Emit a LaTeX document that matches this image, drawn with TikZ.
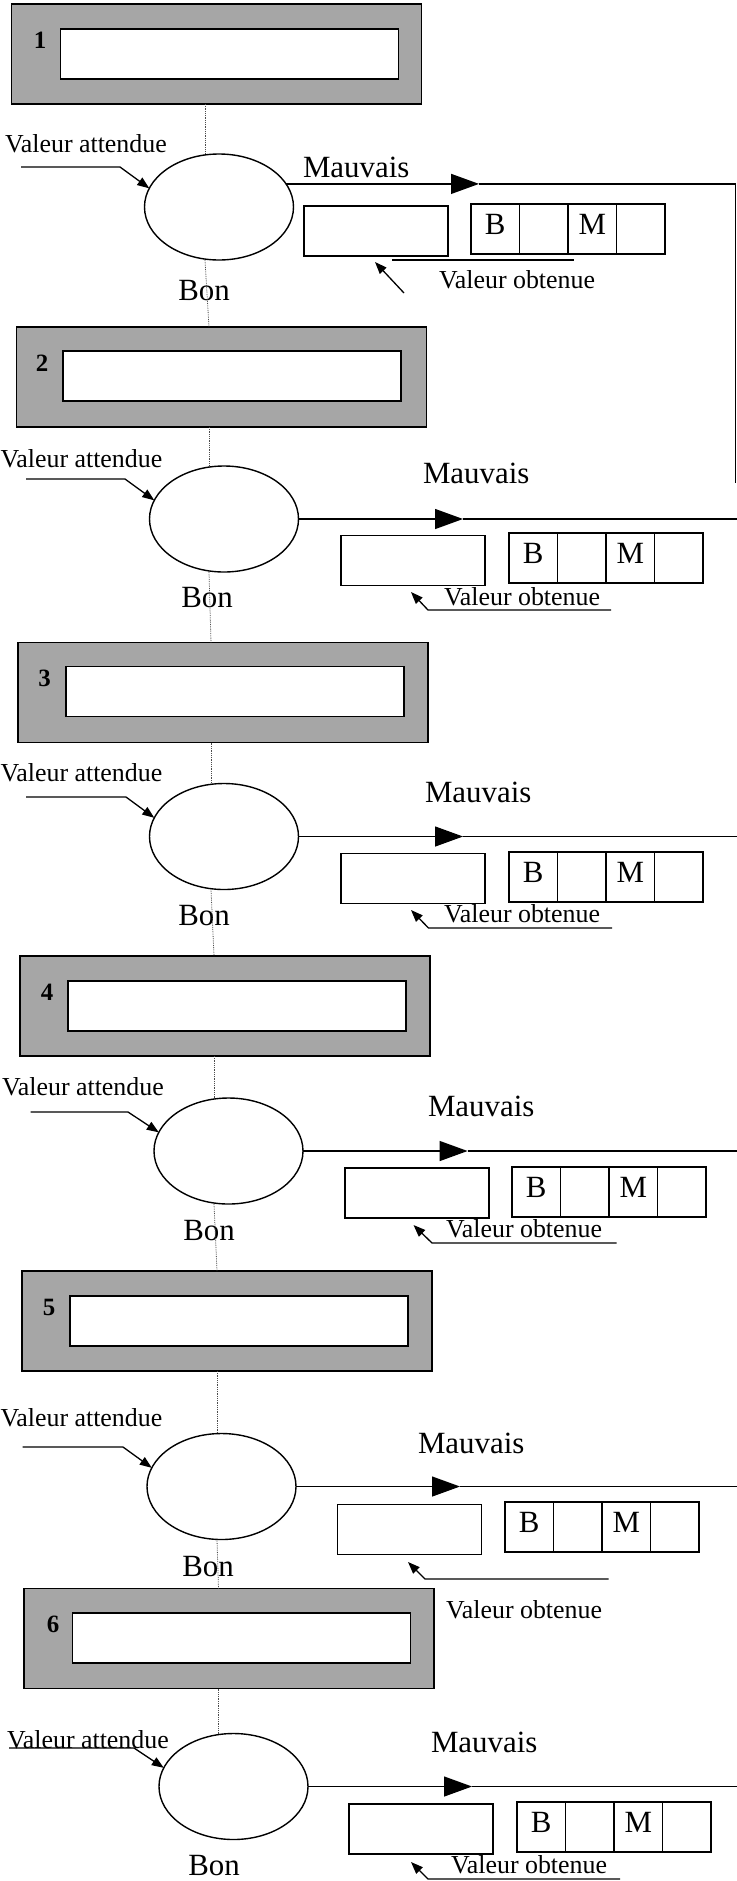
\documentclass[tikz,border=0pt]{standalone}
\usepackage{fontspec}
\setmainfont{Liberation Serif}
\usetikzlibrary{shapes.geometric,arrows.meta}
\tikzset{
  frame/.style={draw, line width=1.5bp, fill=black!35, minimum width=410bp, minimum height=100bp, inner sep=0, outer sep=0},
  innerbox/.style={draw, line width=1.3bp, fill=white, minimum width=338bp, minimum height=50bp, inner sep=0, outer sep=0},
  oval/.style={ellipse, draw, line width=1.4bp, minimum width=149bp, minimum height=106bp, inner sep=0, outer sep=0},
  vbox/.style={draw, line width=1.3bp, minimum width=144bp, minimum height=50bp, inner sep=0, outer sep=0},
  cell/.style={draw, line width=1.2bp, minimum width=48.5bp, minimum height=50bp, inner sep=0, outer sep=0},
  big/.style={font=\fontsize{31}{31}\selectfont, inner sep=0, outer sep=0},
  small/.style={font=\fontsize{26}{26}\selectfont, inner sep=0, outer sep=0},
  num/.style={font=\fontsize{25}{25}\selectfont\bfseries, inner sep=0, outer sep=0},
  conn/.style={line width=1.3bp},
  dotl/.style={densely dotted, line width=0.8bp, black!70},
  bigtip/.style={-{Triangle[length=28bp,width=20bp]}},
  smalltip/.style={-{Triangle[length=12bp,width=9bp]}},
  letter/.style={big, anchor=base, yshift=-5.5bp},
}
\begin{document}
\begin{tikzpicture}[x=1bp,y=-1bp]
\useasboundingbox (0,0) rectangle (737,1881);
\fill[white] (0,0) rectangle (737,1881);

% ---------------- Block 1 ----------------
\node[frame] (f1) at (216.5,54) {};
\node[innerbox] (w1) at (229.5,54) {};
\node[num, anchor=base] (n1) at (40,48) {1};
\node[oval] (e1) at (219,207) {};
\node[vbox] (v1) at (376,231) {};
\node[cell] (c11) at (495.25,229) {};
\node[cell] (c12) at (543.75,229) {};
\node[cell] (c13) at (592.25,229) {};
\node[cell] (c14) at (640.75,229) {};
\node[letter] (lb1) at (c11.center) {B};
\node[letter] (lm1) at (c13.center) {M};
\node[small, anchor=base west] (va1) at (5,152) {Valeur attendue};
\node[big, anchor=base west] (mv1) at (303,177) {Mauvais};
\node[big, anchor=base] (bn1) at (204,300) {Bon};
\node[small, anchor=base west] (vo1) at (439,288) {Valeur obtenue};
\coordinate (a1) at (21,167);
\coordinate (b1) at (120,167);
\draw[conn, smalltip] (a1) -- (b1) -- (e1.165);
\coordinate (t1) at (479,0);
\coordinate (r1) at (735.5,0);
\coordinate (q1) at (735.5,483);
\draw[conn, bigtip] (e1.19) -- (e1.19 -| t1);
\draw[conn] (e1.19 -| t1) -- (e1.19 -| r1) -- (q1);
\coordinate (u1a) at (392,260);
\coordinate (u1b) at (574,260);
\draw[conn] (u1a) -- (u1b);
\coordinate (p1) at (404,293);
\coordinate (k1) at (375,262);
\draw[conn, smalltip] (p1) -- (k1);
\coordinate (d1) at (205,0);

% ---------------- Block 2 ----------------
\node[frame] (f2) at (221.5,377) {};
\node[innerbox] (w2) at (232,376) {};
\node[num, anchor=base] (n2) at (42,371) {2};
\node[oval] (e2) at (224,519) {};
\node[vbox] (v2) at (413,560.5) {};
\node[cell] (c21) at (533.25,558) {};
\node[cell] (c22) at (581.75,558) {};
\node[cell] (c23) at (630.25,558) {};
\node[cell] (c24) at (678.75,558) {};
\node[letter] (lb2) at (c21.center) {B};
\node[letter] (lm2) at (c23.center) {M};
\node[small, anchor=base west] (va2) at (0.5,467) {Valeur attendue};
\node[big, anchor=base west] (mv2) at (423,483) {Mauvais};
\node[big, anchor=base] (bn2) at (207,607) {Bon};
\node[small, anchor=base west] (vo2) at (444,605) {Valeur obtenue};
\coordinate (a2) at (26,479);
\coordinate (b2) at (125,479);
\draw[conn, smalltip] (a2) -- (b2) -- (e2.165);
\coordinate (t2) at (463,0);
\coordinate (r2) at (737,0);
\draw[conn, bigtip] (e2.east) -- (e2.east -| t2);
\draw[conn] (e2.east -| t2) -- (e2.east -| r2);
\coordinate (u2a) at (611,610);
\coordinate (u2b) at (428,610);
\coordinate (k2) at (411,592);
\draw[conn, smalltip] (u2a) -- (u2b) -- (k2);
\coordinate (d2) at (209,0);

% ---------------- Block 3 ----------------
\node[frame] (f3) at (223,692.5) {};
\node[innerbox] (w3) at (235,691.5) {};
\node[num, anchor=base] (n3) at (44.6,686) {3};
\node[oval] (e3) at (224,836.5) {};
\node[vbox] (v3) at (413,878.5) {};
\node[cell] (c31) at (533.25,877) {};
\node[cell] (c32) at (581.75,877) {};
\node[cell] (c33) at (630.25,877) {};
\node[cell] (c34) at (678.75,877) {};
\node[letter] (lb3) at (c31.center) {B};
\node[letter] (lm3) at (c33.center) {M};
\node[small, anchor=base west] (va3) at (0.5,781) {Valeur attendue};
\node[big, anchor=base west] (mv3) at (425,802) {Mauvais};
\node[big, anchor=base] (bn3) at (204,925) {Bon};
\node[small, anchor=base west] (vo3) at (444,922) {Valeur obtenue};
\coordinate (a3) at (26,797);
\coordinate (b3) at (126,797);
\draw[conn, smalltip] (a3) -- (b3) -- (e3.165);
\coordinate (t3) at (463,0);
\draw[conn, bigtip] (e3.east) -- (e3.east -| t3);
\draw[conn] (e3.east -| t3) -- (e3.east -| r2);
\coordinate (u3a) at (612,928);
\coordinate (u3b) at (428.5,928);
\coordinate (k3) at (411,910);
\draw[conn, smalltip] (u3a) -- (u3b) -- (k3);
\coordinate (d3) at (211,0);

% ---------------- Block 4 ----------------
\node[frame] (f4) at (225,1006) {};
\node[innerbox] (w4) at (237,1006) {};
\node[num, anchor=base] (n4) at (47,1000) {4};
\node[oval] (e4) at (228.5,1151) {};
\node[vbox] (v4) at (417,1193) {};
\node[cell] (c41) at (536.25,1192) {};
\node[cell] (c42) at (584.75,1192) {};
\node[cell] (c43) at (633.25,1192) {};
\node[cell] (c44) at (681.75,1192) {};
\node[letter] (lb4) at (c41.center) {B};
\node[letter] (lm4) at (c43.center) {M};
\node[small, anchor=base west] (va4) at (2,1095) {Valeur attendue};
\node[big, anchor=base west] (mv4) at (428,1116) {Mauvais};
\node[big, anchor=base] (bn4) at (209,1240) {Bon};
\node[small, anchor=base west] (vo4) at (446,1237) {Valeur obtenue};
\coordinate (a4) at (30.5,1112);
\coordinate (b4) at (128,1112);
\draw[conn, smalltip] (a4) -- (b4) -- (e4.165);
\coordinate (t4) at (467.6,0);
\draw[conn, bigtip] (e4.east) -- (e4.east -| t4);
\draw[conn] (e4.east -| t4) -- (e4.east -| r2);
\coordinate (u4a) at (616.5,1243);
\coordinate (u4b) at (432,1243);
\coordinate (k4) at (413.5,1225);
\draw[conn, smalltip] (u4a) -- (u4b) -- (k4);
\coordinate (d4) at (214,0);

% ---------------- Block 5 ----------------
\node[frame] (f5) at (227,1321) {};
\node[innerbox] (w5) at (239,1321) {};
\node[num, anchor=base] (n5) at (49,1315) {5};
\node[oval] (e5) at (221.5,1486.5) {};
\node[vbox] (v5) at (409.5,1529.5) {};
\node[cell] (c51) at (529.25,1527) {};
\node[cell] (c52) at (577.75,1527) {};
\node[cell] (c53) at (626.25,1527) {};
\node[cell] (c54) at (674.75,1527) {};
\node[letter] (lb5) at (c51.center) {B};
\node[letter] (lm5) at (c53.center) {M};
\node[small, anchor=base west] (va5) at (0.5,1426) {Valeur attendue};
\node[big, anchor=base west] (mv5) at (418,1453) {Mauvais};
\node[big, anchor=base] (bn5) at (208,1576) {Bon};
\node[small, anchor=base west] (vo5) at (446,1618) {Valeur obtenue};
\coordinate (a5) at (22.5,1447);
\coordinate (b5) at (123,1447);
\draw[conn, smalltip] (a5) -- (b5) -- (e5.165);
\coordinate (t5) at (460,0);
\draw[conn, bigtip] (e5.east) -- (e5.east -| t5);
\draw[conn] (e5.east -| t5) -- (e5.east -| r2);
\coordinate (u5a) at (608.5,1579);
\coordinate (u5b) at (425,1579);
\coordinate (k5) at (408,1562);
\draw[conn, smalltip] (u5a) -- (u5b) -- (k5);
\coordinate (d5) at (217,0);

% ---------------- Block 6 ----------------
\node[frame] (f6) at (229,1638.5) {};
\node[innerbox] (w6) at (241.5,1638) {};
\node[num, anchor=base] (n6) at (53,1632) {6};
\node[oval] (e6) at (233.5,1786.5) {};
\node[vbox] (v6) at (421,1829) {};
\node[cell] (c61) at (541.25,1827) {};
\node[cell] (c62) at (589.75,1827) {};
\node[cell] (c63) at (638.25,1827) {};
\node[cell] (c64) at (686.75,1827) {};
\node[letter] (lb6) at (c61.center) {B};
\node[letter] (lm6) at (c63.center) {M};
\node[small, anchor=base west] (va6) at (7,1748) {Valeur attendue};
\node[big, anchor=base west] (mv6) at (431,1752) {Mauvais};
\node[big, anchor=base] (bn6) at (214,1875) {Bon};
\node[small, anchor=base west] (vo6) at (451,1873) {Valeur obtenue};
\coordinate (a6) at (9,1748);
\coordinate (b6) at (134,1748);
\draw[conn, smalltip] (a6) -- (b6) -- (e6.165);
\coordinate (t6) at (472,0);
\draw[conn, bigtip] (e6.east) -- (e6.east -| t6);
\draw[conn] (e6.east -| t6) -- (e6.east -| r2);
\coordinate (u6a) at (620,1879);
\coordinate (u6b) at (428,1879);
\coordinate (k6) at (411,1862);
\draw[conn, smalltip] (u6a) -- (u6b) -- (k6);
\coordinate (d6) at (218.5,0);

% ---------------- dotted spine ----------------
\draw[dotl] (f1.south -| d1) -- (e1.north -| d1);
\draw[dotl] (e1.south -| d1) -- (f2.north -| d2);
\draw[dotl] (f2.south -| d2) -- (e2.north -| d2);
\draw[dotl] (e2.south -| d2) -- (f3.north -| d3);
\draw[dotl] (f3.south -| d3) -- (e3.north -| d3);
\draw[dotl] (e3.south -| d3) -- (f4.north -| d4);
\draw[dotl] (f4.south -| d4) -- (e4.north -| d4);
\draw[dotl] (e4.south -| d4) -- (f5.north -| d5);
\draw[dotl] (f5.south -| d5) -- (e5.north -| d5);
\draw[dotl] (e5.south -| d5) -- (f6.north -| d6);
\draw[dotl] (f6.south -| d6) -- (e6.north -| d6);
\end{tikzpicture}
\end{document}
